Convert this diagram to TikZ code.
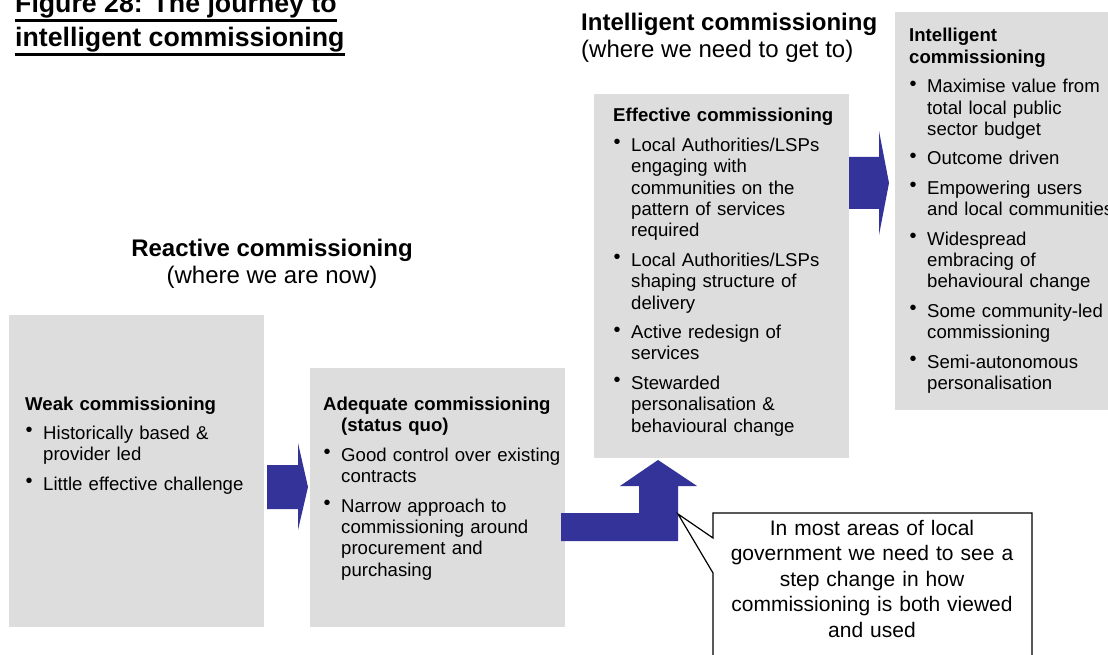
\documentclass[tikz,border=0pt]{standalone}
\usepackage{fontspec}
\setmainfont{Liberation Sans}
\definecolor{boxgray}{HTML}{DDDDDD}
\definecolor{arrowblue}{HTML}{333399}
\newcommand{\bitem}{\par\vskip8pt\hangindent=18pt\hangafter=1\noindent\makebox[18pt][l]{\hspace{0.5pt}\raisebox{2.5pt}{\fontsize{20}{20}\selectfont\textbullet}}}
\tikzset{
  stage/.style={fill=boxgray, inner sep=0pt, anchor=north west},
  stagetext/.style={inner sep=0pt, anchor=base west, text width=#1, align=left, font=\fontsize{18.6}{21.4}\selectfont},
  heading/.style={inner sep=0pt, font=\fontsize{24}{27}\selectfont},
  figtitle/.style={inner sep=0pt, anchor=base west, font=\fontsize{26.7}{30}\selectfont\bfseries},
  blockarrow/.style={fill=arrowblue}
}
\begin{document}
\begin{tikzpicture}[x=1pt,y=-1pt]
    \useasboundingbox (0,0) rectangle (1108,655);
    \clip (0,0) rectangle (1108,655);

    \node[stage, minimum width=255pt, minimum height=312pt] (weak) at (9,315) {};
    \node[stage, minimum width=255pt, minimum height=259pt] (adequate) at (310,368) {};
    \node[stage, minimum width=255pt, minimum height=364pt] (effective) at (594,94) {};
    \node[stage, minimum width=240pt, minimum height=398pt] (intelligent) at (895,12) {};

    \fill[blockarrow] (267,465) -- (298,465) -- (298,443) -- (308,487) -- (298,530) -- (298,509) -- (267,509) -- cycle;
    \fill[blockarrow] (561,513) -- (639,513) -- (639,486) -- (620,486) -- (658,460) -- (697,486) -- (678,486) -- (678,541) -- (561,541) -- cycle;
    \fill[blockarrow] (849,157) -- (879,157) -- (879,131) -- (889,183) -- (879,235) -- (879,209) -- (849,209) -- cycle;

    \node[figtitle] (fig1) at (15,13) {Figure 28: The journey to};
    \node[figtitle] (fig2) at (15,47) {intelligent commissioning};
    \draw[line width=2.8pt] ([yshift=-7.5pt]fig1.base west) -- ([yshift=-7.5pt]fig1.base east);
    \draw[line width=2.8pt] ([yshift=-7.5pt]fig2.base west) -- ([yshift=-7.5pt]fig2.base east);

    \node[heading, anchor=base west] (goal) at (581,31) {\textbf{Intelligent commissioning}};
    \node[heading, anchor=base west] (goalsub) at (581,58) {(where we need to get to)};
    \node[heading, anchor=base] (now) at (272,256) {\textbf{Reactive commissioning}};
    \node[heading, anchor=base] (nowsub) at (272,283) {(where we are now)};

    \node[stagetext=235pt] (weaktext) at (25,410) {\textbf{Weak commissioning}\bitem Historically based \&\newline provider led\bitem Little effective challenge\par};
    \node[stagetext=240pt] (adequatetext) at (323,410.5) {\textbf{Adequate commissioning}\newline\hspace*{18pt}\textbf{(status quo)}\bitem Good control over existing\newline contracts\bitem Narrow approach to\newline commissioning around\newline procurement and\newline purchasing\par};
    \node[stagetext=240pt] (effectivetext) at (613,122) {\textbf{Effective commissioning}\bitem Local Authorities/LSPs\newline engaging with\newline communities on the\newline pattern of services\newline required\bitem Local Authorities/LSPs\newline shaping structure of\newline delivery\bitem Active redesign of\newline services\bitem Stewarded\newline personalisation \&\newline behavioural change\par};
    \node[stagetext=220pt] (intelligenttext) at (909,42) {\textbf{Intelligent}\newline\textbf{commissioning}\bitem Maximise value from\newline total local public\newline sector budget\bitem Outcome driven\bitem Empowering users\newline and local communities\bitem Widespread\newline embracing of\newline behavioural change\bitem Some community-led\newline commissioning\bitem Semi-autonomous\newline personalisation\par};

    \coordinate (tip) at (678,514);
    \draw[fill=white, line width=1.2pt] (713,670) -- (713,573) -- (tip) -- (713,538) -- (713,513) -- (1032,513) -- (1032,670) -- cycle;
    \node[inner sep=0pt, anchor=base, text width=310pt, align=center, font=\fontsize{21}{25.5}\selectfont] (note) at (872,535) {In most areas of local\\ government we need to see a\\ step change in how\\ commissioning is both viewed\\ and used};
\end{tikzpicture}
\end{document}
